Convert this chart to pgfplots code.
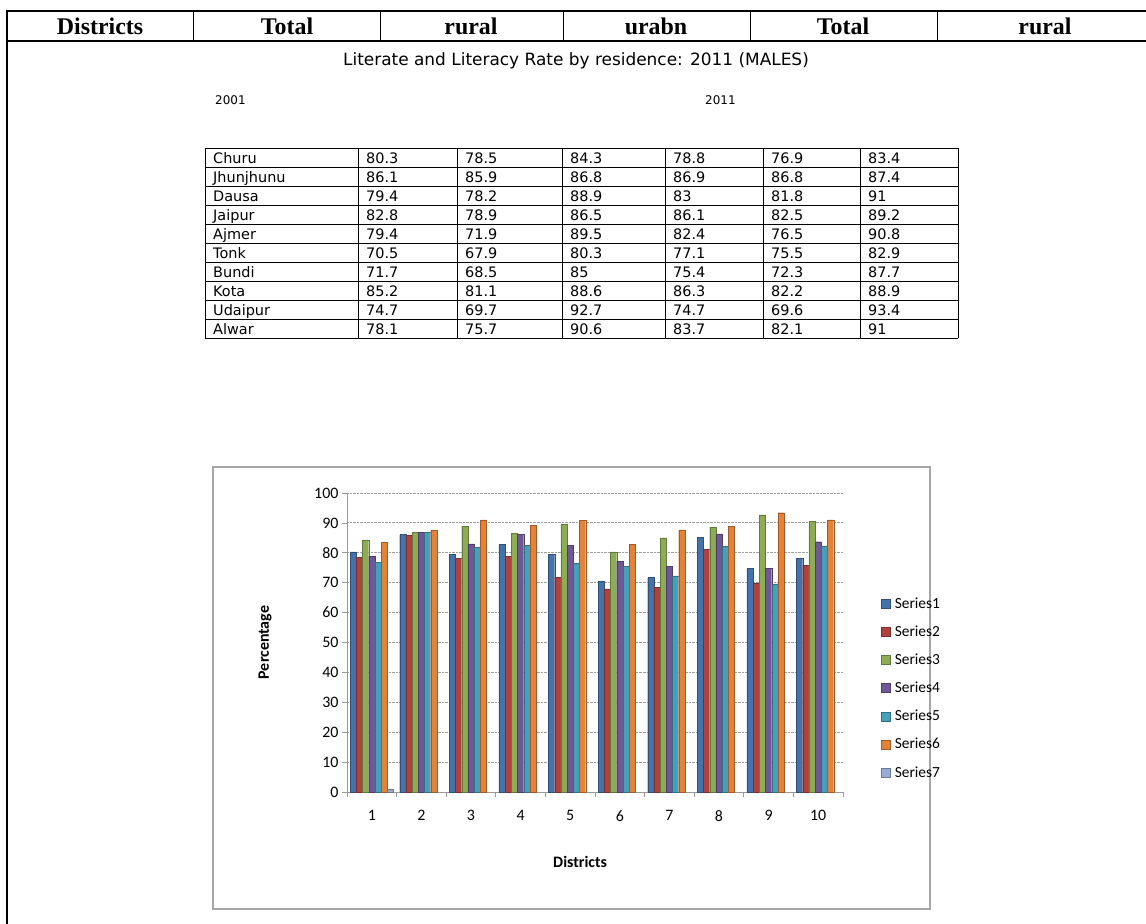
\documentclass[border=0pt]{standalone}
\usepackage{pgfplots}
\pgfplotsset{compat=1.18}
\usepackage{pgfplotstable}
\usepackage{fontspec}
\setmainfont{DejaVu Sans}
\newfontfamily\hdrfont{Liberation Serif}
\newfontfamily\chartfont{Carlito}

\definecolor{s1}{RGB}{68,114,170}
\definecolor{s2}{RGB}{176,66,62}
\definecolor{s3}{RGB}{142,172,84}
\definecolor{s4}{RGB}{112,88,150}
\definecolor{s5}{RGB}{70,160,186}
\definecolor{s6}{RGB}{228,130,58}
\definecolor{s7}{RGB}{150,172,212}

\pgfplotstableread{
dist t01 r01 u01 t11 r11 u11
Churu 80.3 78.5 84.3 78.8 76.9 83.4
Jhunjhunu 86.1 85.9 86.8 86.9 86.8 87.4
Dausa 79.4 78.2 88.9 83 81.8 91
Jaipur 82.8 78.9 86.5 86.1 82.5 89.2
Ajmer 79.4 71.9 89.5 82.4 76.5 90.8
Tonk 70.5 67.9 80.3 77.1 75.5 82.9
Bundi 71.7 68.5 85 75.4 72.3 87.7
Kota 85.2 81.1 88.6 86.3 82.2 88.9
Udaipur 74.7 69.7 92.7 74.7 69.6 93.4
Alwar 78.1 75.7 90.6 83.7 82.1 91
}\data

\begin{document}
\begin{tikzpicture}
\useasboundingbox (0,0) rectangle (1146bp,-924bp);
\begin{scope}[x=1bp,y=1bp]
% header row
\draw[line width=2bp] (7,-11) -- (1146,-11);
\draw[line width=2bp] (7,-41) -- (1146,-41);
\draw[line width=2bp] (7,-10) -- (7,-924);
\foreach \x in {193,380,563,750,937} \draw[line width=1bp] (\x,-11) -- (\x,-41);
\foreach \x/\t in {100/Districts,287/Total,471/rural,656/urabn,843/Total,1045/rural}
  \node[anchor=base, inner sep=0pt, font=\hdrfont\bfseries\fontsize{24}{28}\selectfont] at (\x,-34) {\t};
% title
\node[anchor=base, inner sep=0pt, font=\fontsize{17}{20}\selectfont] at (576,-65) {Literate and Literacy Rate by residence: 2011 (MALES)};
\node[anchor=base west, inner sep=0pt, font=\fontsize{12}{14}\selectfont] at (215,-104) {2001};
\node[anchor=base west, inner sep=0pt, font=\fontsize{12}{14}\selectfont] at (705,-104) {2011};
% table grid
\foreach \i in {0,...,10} \draw[line width=1bp] (205,-148-19*\i) -- (958,-148-19*\i);
\foreach \x in {205,358,457,562,665,763,860,958} \draw[line width=1bp] (\x,-148) -- (\x,-338);
\foreach \r in {0,...,9}{
  \foreach \c/\x in {dist/213,t01/366,r01/465,u01/570,t11/673,r11/771,u11/868}{
    \pgfplotstablegetelem{\r}{\c}\of\data
    \node[anchor=base west,inner sep=0pt,font=\fontsize{14.5}{17}\selectfont] at (\x,-163-19*\r) {\pgfplotsretval};
  }
}
% chart frame
\draw[gray!70, line width=1.5bp] (213,-467) rectangle (930,-909);
\end{scope}

\begin{axis}[at={(347bp,-792bp)}, anchor=south west, scale only axis,
  width=496bp, height=299bp,
  xmin=0.5, xmax=10.5, ymin=0, ymax=100,
  ybar=0pt, bar width=6.2bp,
  axis lines=left, axis line style={-, gray!80, line width=0.8bp},
  xtick={0.5,1.5,...,10.5}, x tick label as interval,
  xticklabels={1,2,3,4,5,6,7,8,9,10},
  ytick={0,10,...,100},
  tick align=outside, major tick length=5bp,
  tick style={gray!80, line width=0.8bp},
  ymajorgrids, grid style={gray!75, densely dotted, line width=1bp},
  tick label style={font=\chartfont\fontsize{16}{19}\selectfont},
  xticklabel style={yshift=-10bp},
  /pgf/number format/assume math mode=true,
  ylabel={Percentage}, xlabel={Districts},
  every axis y label/.style={at={(axis description cs:-0.165,0.5)}, rotate=90, anchor=center,
    font=\chartfont\bfseries\fontsize{16}{19}\selectfont},
  every axis x label/.style={at={(axis description cs:0.47,-0.233)}, anchor=center,
    font=\chartfont\bfseries\fontsize{16}{19}\selectfont},
  legend cell align=left,
  legend style={at={(axis description cs:1.077,0.657)}, anchor=north west, draw=none, fill=none,
    font=\chartfont\fontsize{15.5}{18}\selectfont, row sep=12bp, column sep=2bp, inner sep=0pt},
  legend image code/.code={\fill[#1] (0bp,-4.5bp) rectangle (9bp,4.5bp);},
]
\addplot[fill=s1, draw=s1!70!black] table[x expr=\coordindex+1, y=t01] {\data};
\addplot[fill=s2, draw=s2!70!black] table[x expr=\coordindex+1, y=r01] {\data};
\addplot[fill=s3, draw=s3!70!black] table[x expr=\coordindex+1, y=u01] {\data};
\addplot[fill=s4, draw=s4!70!black] table[x expr=\coordindex+1, y=t11] {\data};
\addplot[fill=s5, draw=s5!70!black] table[x expr=\coordindex+1, y=r11] {\data};
\addplot[fill=s6, draw=s6!70!black] table[x expr=\coordindex+1, y=u11] {\data};
\addplot[fill=s7, draw=s7!70!black] coordinates {(1,1)};
\legend{Series1,Series2,Series3,Series4,Series5,Series6,Series7}
\end{axis}
\end{tikzpicture}
\end{document}
